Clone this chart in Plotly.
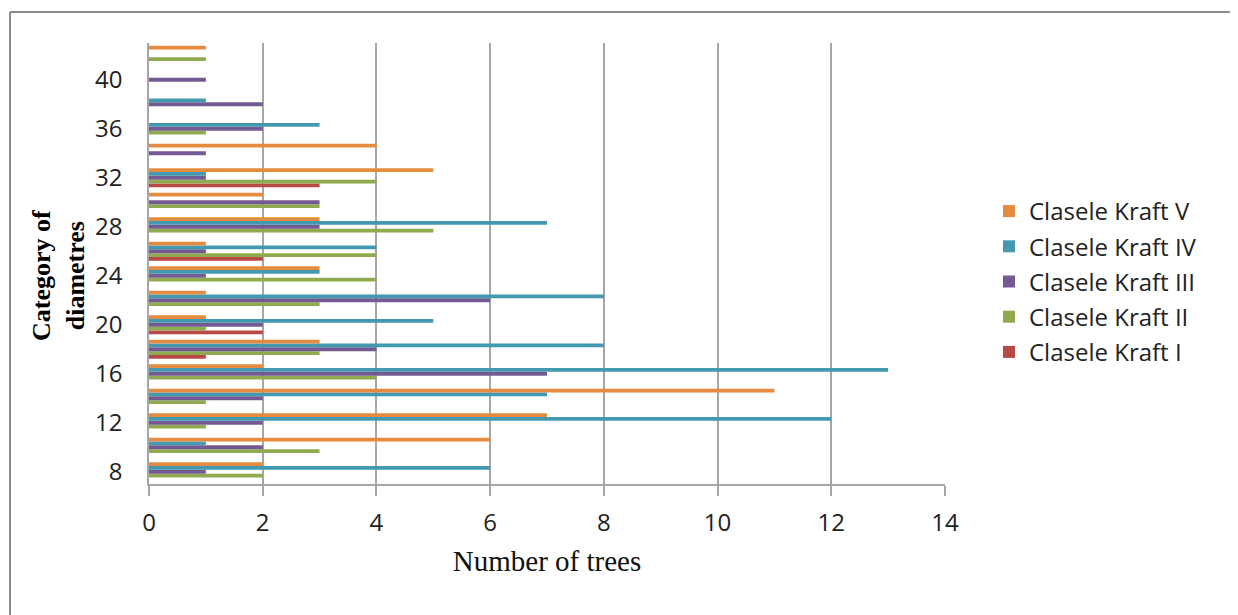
import plotly.graph_objects as go

categories = [8, 10, 12, 14, 16, 18, 20, 22, 24, 26, 28, 30, 32, 34, 36, 38, 40, 42]
kraft_I = [0, 0, 0, 0, 0, 1, 2, 0, 0, 2, 0, 0, 3, 0, 0, 0, 0, 0]
kraft_II = [2, 3, 1, 1, 4, 3, 1, 3, 4, 4, 5, 3, 4, 0, 1, 0, 0, 1]
kraft_III = [1, 2, 2, 2, 7, 4, 2, 6, 1, 1, 3, 3, 1, 1, 2, 2, 1, 0]
kraft_IV = [6, 1, 12, 7, 13, 8, 5, 8, 3, 4, 7, 0, 1, 0, 3, 1, 0, 0]
kraft_V = [2, 6, 7, 11, 2, 3, 1, 1, 3, 1, 3, 2, 5, 4, 0, 0, 0, 1]

series_names = ["Clasele Kraft I", "Clasele Kraft II", "Clasele Kraft III",
                "Clasele Kraft IV", "Clasele Kraft V"]
series_values = [kraft_I, kraft_II, kraft_III, kraft_IV, kraft_V]
colors = ["#B84A46", "#8FAA4F", "#735A93", "#4299B0", "#E58B3F"]

x_ticks = [0, 2, 4, 6, 8, 10, 12, 14]
y_ticks = [8, 12, 16, 20, 24, 28, 32, 36, 40]

fig = go.Figure()
for i, (name, vals, col) in enumerate(zip(series_names, series_values, colors)):
    fig.add_trace(go.Bar(
        y=categories, x=vals, name=name, orientation="h",
        marker=dict(color=col, line=dict(width=0)),
        legendgroup=name, legendrank=100 - i,
    ))

# page body has an 8px margin; positions below are in figure pixels
OFF = 8
W, H = 1238 - OFF, 615 - OFF
L, R, T, B = 149 - OFF, 945 - OFF, 43 - OFF, 484 - OFF


def px(p):
    return (p - OFF - L) / (R - L)


def py(p):
    return (B - (p - OFF)) / (B - T)


sans = "Open Sans, Lato, sans-serif"
serif = "Liberation Serif, Times New Roman, serif"

fig.update_layout(
    width=W, height=H,
    margin=dict(l=L, r=W - R, t=T, b=H - B),
    paper_bgcolor="white", plot_bgcolor="white",
    barmode="group", bargap=0.22, bargroupgap=0,
    font=dict(family=sans, color="#222222"),
    showlegend=True,
    legend=dict(
        x=px(989), y=py(189),
        xanchor="left", yanchor="top",
        traceorder="grouped", tracegroupgap=1,
        font=dict(size=24, family=sans, color="#222222"),
        itemwidth=30, bgcolor="rgba(0,0,0,0)",
    ),
    xaxis=dict(
        range=[0, 14], tickvals=x_ticks, showgrid=True, gridcolor="#A6A6A6", gridwidth=1.5,
        zeroline=False, showline=True, linecolor="#A6A6A6", linewidth=1.5,
        ticks="outside", ticklen=10, tickcolor="#A6A6A6", tickwidth=1.5,
        tickfont=dict(size=24), ticklabelstandoff=6,
        title=dict(text="Number of trees",
                   font=dict(family=serif, size=29, color="#111111"),
                   standoff=14),
        fixedrange=True,
    ),
    yaxis=dict(
        range=[7, 43], tickvals=y_ticks, showgrid=False, zeroline=False,
        showline=True, linecolor="#A6A6A6", linewidth=1.5,
        ticks="", tickfont=dict(size=24), ticklabelstandoff=20,
        fixedrange=True,
    ),
    annotations=[dict(
        text="<b>Category of<br>diametres</b>", textangle=-90,
        xref="paper", yref="paper",
        x=px(58), y=py(276),
        xanchor="center", yanchor="middle", showarrow=False,
        font=dict(family=serif, size=26, color="#000000"),
    )],
    shapes=[
        dict(type="line", xref="paper", yref="paper",
             x0=px(10), x1=px(10), y0=py(12), y1=py(640),
             line=dict(color="#8C8C8C", width=2)),
        dict(type="line", xref="paper", yref="paper",
             x0=px(10), x1=px(1260), y0=py(12), y1=py(12),
             line=dict(color="#8C8C8C", width=2)),
    ],
)

fig.write_html("out.html")
